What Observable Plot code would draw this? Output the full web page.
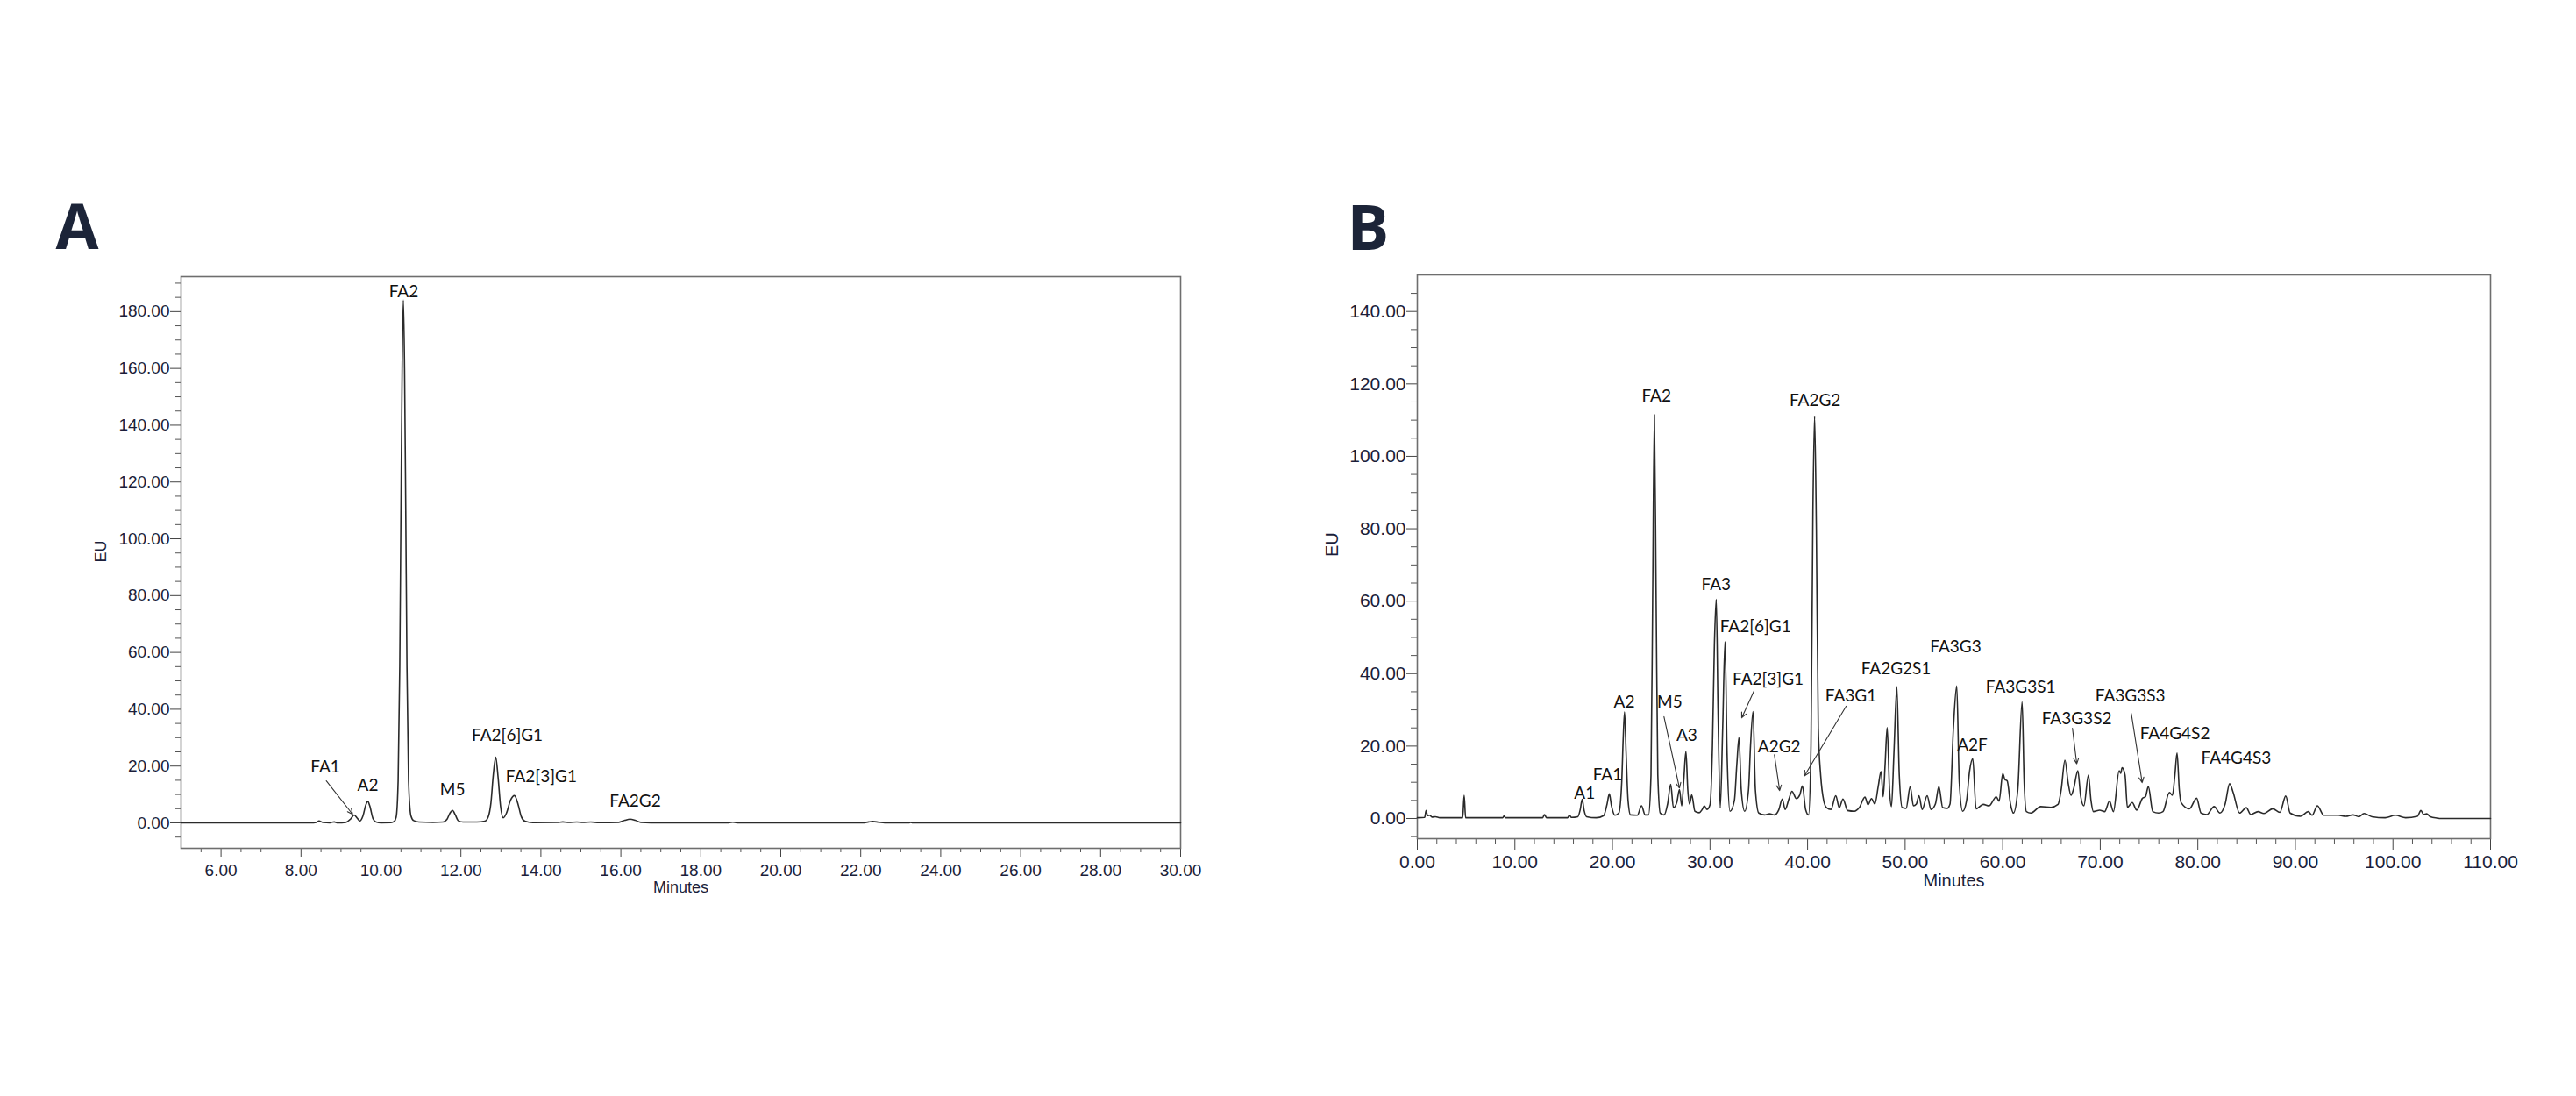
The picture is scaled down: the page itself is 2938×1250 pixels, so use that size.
<!DOCTYPE html>
<html>
<head>
<meta charset="utf-8">
<script src="https://cdn.jsdelivr.net/npm/d3@7"></script>
<script src="https://cdn.jsdelivr.net/npm/@observablehq/plot@0.6"></script>
<style>
  html, body { margin: 0; padding: 0; background: #fff; }
  #wrap { position: relative; width: 2938px; height: 1250px; overflow: hidden; background: #fff; }
  .panel { position: absolute; top: 0; }
</style>
</head>
<body>
<div id="wrap">
  <div id="pa" class="panel" style="left:0px"></div>
  <div id="pb" class="panel" style="left:1450px"></div>
</div>
<script>
// ---------------- Panel A data ----------------
const aTime = [5.0, 8.25, 8.38, 8.45, 8.55, 8.72, 8.83, 8.92, 9.12, 9.25, 9.33, 9.41, 9.47, 9.55, 9.62, 9.67, 9.72, 9.8, 9.88, 10.0,
  10.25, 10.33, 10.38, 10.43, 10.47, 10.50, 10.53, 10.56, 10.59, 10.62, 10.65, 10.69, 10.75, 10.82, 10.95, 11.3,
  11.55, 11.65, 11.72, 11.79, 11.86, 11.93, 12.05, 12.4, 12.6, 12.68, 12.75, 12.81, 12.87, 12.93, 12.99, 13.06,
  13.14, 13.24, 13.34, 13.43, 13.51, 13.6, 13.8, 14.4, 14.55, 14.7, 14.9, 15.05, 15.25, 15.45, 15.95, 16.1, 16.23,
  16.36, 16.5, 17.0, 18.7, 18.8, 18.9, 22.05, 22.2, 22.3, 22.45, 22.6, 23.2, 23.25, 23.3, 30.0];
const aEU = [0, 0, 0.2, 0.7, 0.15, 0.05, 0.35, 0, 0.2, 1.5, 2.8, 1.6, 0.7, 2.5, 6.3, 7.6, 6.0, 1.5, 0.3, 0.05,
  0.1, 0.5, 2, 15, 55, 110, 160, 184, 160, 110, 55, 15, 2.5, 0.8, 0.3, 0.2,
  0.3, 1.2, 3.3, 4.4, 2.8, 0.8, 0.3, 0.3, 0.6, 2, 7, 17, 23.1, 16, 6, 1.8,
  3.5, 8, 9.6, 6.5, 2.2, 0.6, 0.1, 0.15, 0.35, 0.15, 0.3, 0.15, 0.3, 0.1, 0.2, 0.9, 1.3,
  0.9, 0.2, 0, 0, 0.25, 0, 0, 0.35, 0.5, 0.25, 0, 0, 0.2, 0, 0];

const aPeakNames = ["FA1", "A2", "FA2", "M5", "FA2[6]G1", "FA2[3]G1", "FA2G2"];
const aPeakLabelTime = [8.61, 9.67, 10.57, 11.79, 13.16, 14.01, 16.36];
const aPeakLabelEU = [19.5, 13.3, 186.8, 11.7, 30.6, 16.1, 7.7];

const aArrowX1 = [8.634], aArrowY1 = [14.8], aArrowX2 = [9.292], aArrowY2 = [3.0];

const aXTicks = [6, 8, 10, 12, 14, 16, 18, 20, 22, 24, 26, 28, 30];
const aYTicks = [0, 20, 40, 60, 80, 100, 120, 140, 160, 180];

// ---------------- Panel B data ----------------
const bTime = [0.0, 0.75, 0.9, 1.05, 1.26, 1.5, 1.86, 2.3, 4.65, 4.8, 4.95, 8.75, 8.9, 9.05, 12.85, 13.03, 13.25,
  15.4, 15.58, 15.8, 16.45, 16.7, 16.9, 17.1, 17.35, 18.33, 19.1, 19.45, 19.68, 19.9, 20.25, 20.65, 20.95, 21.1,
  21.24, 21.4, 21.6, 21.85, 22.55, 22.98, 23.35, 23.7, 23.95, 24.12, 24.3, 24.48, 24.65, 24.9, 25.3, 25.65, 25.97,
  26.25, 26.6, 26.87, 27.1, 27.32, 27.53, 27.72, 27.9, 28.13, 28.45, 28.9, 29.2, 29.42, 29.7, 30.0, 30.25, 30.45,
  30.64, 30.82, 31.05, 31.3, 31.54, 31.75, 32.05, 32.5, 32.75, 32.97, 33.2, 33.55, 33.95, 34.15, 34.41, 34.65,
  35.0, 35.6, 36.1, 36.6, 37.05, 37.41, 37.7, 38.1, 38.4, 38.85, 39.2, 39.47, 39.8, 40.1, 40.35, 40.55, 40.72,
  40.9, 41.1, 41.35, 41.65, 41.95, 42.4, 42.89, 43.25, 43.63, 44.1, 44.8, 45.3, 45.88, 46.2, 46.55, 46.9, 47.25,
  47.53, 47.75, 47.95, 48.16, 48.4, 48.6, 48.85, 49.15, 49.4, 49.7, 50.1, 50.52, 50.85, 51.15, 51.42, 51.75,
  52.26, 52.65, 53.1, 53.46, 53.85, 54.3, 54.6, 54.95, 55.29, 55.55, 55.9, 56.3, 56.6, 56.93, 57.27, 58.01,
  58.6, 59.34, 59.63, 60.01, 60.22, 60.46, 60.8, 61.1, 61.55, 61.99, 62.2, 62.43, 62.87, 63.9, 64.94, 65.67,
  66.0, 66.38, 66.7, 67.0, 67.29, 67.7, 68.0, 68.32, 68.79, 69.05, 69.3, 69.94, 70.45, 70.95, 71.35, 71.94,
  72.1, 72.24, 72.54, 72.78, 73.28, 73.74, 74.33, 74.63, 74.93, 75.38, 75.98, 76.43, 77.09, 77.39, 77.65,
  77.87, 78.1, 78.29, 79.13, 79.88, 80.33, 80.93, 81.67, 82.27, 82.8, 83.26, 83.62, 84.28, 84.97, 85.42,
  86.17, 86.77, 87.67, 88.41, 89.01, 89.46, 90.51, 91.32, 91.71, 92.25, 92.91, 94.41, 95.16, 95.9, 96.5,
  97.04, 97.85, 99.2, 100.25, 101.3, 102.5, 102.86, 103.15, 103.45, 103.84, 104.59, 104.8, 110.0];
const bEU = [0.2, 0.3, 2.2, 0.8, 0.9, 0.4, 0.5, 0.2, 0.2, 6.4, 0.2, 0.2, 0.7, 0.2, 0.2, 1.1, 0.2,
  0.2, 0.9, 0.3, 0.5, 2.5, 5.3, 2.2, 0.5, 0.2, 0.8, 4, 6.8, 3.5, 0.9, 1.5, 10, 22,
  29.4, 18, 5, 1, 0.9, 3.5, 1.0, 1.0, 12, 60, 111.5, 60, 12, 1.5, 1.0, 4, 9.4,
  3.0, 4.5, 8.0, 3.5, 11, 18.5, 8, 4, 6.5, 2, 1.6, 2.5, 3.5, 2.5, 3.8, 20, 48,
  60.5, 30, 3, 25, 48.8, 18, 2, 5, 15, 22.4, 8, 2, 8, 20, 29.5, 8,
  1.5, 1.0, 1.3, 1.0, 2.4, 5.4, 2.5, 5.5, 7.5, 5.5, 6.5, 9.0, 2.5, 1.0, 20, 85, 111,
  80, 25, 11.7, 5, 3, 2.5, 6.3, 3.0, 5.4, 2.2, 2.0, 3, 5.9, 3.8, 5.5, 4, 9,
  13, 6, 15, 25.1, 8, 3.3, 18, 36.4, 12, 3, 2.8, 8.8, 3.5, 4, 6.3, 2.5,
  6.3, 2.5, 4, 8.8, 3, 2.8, 4, 25, 36.6, 10, 2.0, 5, 13, 16.5, 2.7, 3.9,
  3.5, 6.0, 4.8, 12.4, 10.8, 10.4, 4, 1.5, 8, 32.2, 10, 1.9, 1.5, 3.3, 3.1, 3.9,
  8, 16.1, 10, 6.4, 8.4, 13.2, 6, 3.5, 12.0, 5, 1.9, 2.3, 1.9, 4.8, 1.9, 13.2,
  12.5, 14.0, 12, 3.1, 4.4, 2.3, 5.6, 6, 8.8, 1.9, 1.5, 1.9, 7.2, 6.4, 12,
  18.1, 8, 4.4, 2.7, 5.6, 1.5, 1.1, 3.3, 1.5, 4, 9.6, 7.2, 1.5, 3.0, 1.1,
  1.9, 1.4, 2.7, 1.7, 6.2, 1.5, 0.6, 1.9, 0.9, 3.5, 0.9, 0.9, 0.6, 1.0, 0.5,
  1.4, 0.5, 0.2, 0.9, 0.2, 0.6, 2.2, 1.1, 1.3, 0.5, 0.1, 0, 0];

const bPeakNames = ["A1", "FA1", "A2", "FA2", "M5", "A3", "FA3", "FA2[6]G1", "FA2[3]G1", "A2G2", "FA3G1",
  "FA2G2", "FA2G2S1", "FA3G3", "A2F", "FA3G3S1", "FA3G3S2", "FA3G3S3", "FA4G4S2", "FA4G4S3"];
const bPeakLabelTime = [17.14, 19.5, 21.21, 24.51, 25.87, 27.62, 30.63, 34.66, 35.95, 37.09, 44.44,
  40.77, 49.07, 55.18, 56.89, 61.84, 67.59, 73.08, 77.65, 83.93];
const bPeakLabelEU = [6.9, 11.9, 32.0, 116.5, 32.0, 22.8, 64.5, 53.0, 38.5, 19.7, 33.9,
  115.5, 41.2, 47.3, 20.3, 36.1, 27.4, 33.7, 23.5, 16.7];

const bArrowX1 = [25.28, 34.51, 36.6, 43.95, 67.15, 73.18];
const bArrowY1 = [28.1, 35.2, 17.6, 31.0, 24.9, 29.0];
const bArrowX2 = [26.87, 33.25, 37.14, 39.66, 67.59, 74.3];
const bArrowY2 = [8.4, 27.8, 7.7, 11.7, 15.1, 9.9];

const bXTicks = [0, 10, 20, 30, 40, 50, 60, 70, 80, 90, 100, 110];
const bYTicks = [0, 20, 40, 60, 80, 100, 120, 140];

// ---------------- helpers ----------------
const fmt2 = d => d.toFixed(2);
const tickFont = "'Liberation Sans', Arial, sans-serif";
const labelFont = "Lato, 'Open Sans', sans-serif";
const tickText = "#1b1e3a";

function rows(x, y) { return x.map((t, i) => ({t, v: y[i]})); }
function labelRows(n, x, y) { return n.map((name, i) => ({name, t: x[i], v: y[i]})); }
function arrowRows(x1, y1, x2, y2) { return x1.map((_, i) => ({x1: x1[i], y1: y1[i], x2: x2[i], y2: y2[i]})); }
function minorTicks(lo, hi, step, majors) {
  return d3.range(lo, hi + step / 2, step).filter(v => !majors.some(m => Math.abs(m - v) < 1e-6));
}

function panel(cfg) {
  return Plot.plot({
    width: cfg.width, height: 1250,
    marginLeft: cfg.ml, marginRight: cfg.mr, marginTop: cfg.mt, marginBottom: cfg.mb,
    style: {background: "transparent", fontFamily: tickFont, overflow: "visible"},
    x: {domain: cfg.xDomain},
    y: {domain: cfg.yDomain},
    marks: [
      Plot.axisX({ticks: cfg.xMinor, tickSize: cfg.xMinorSize, tickFormat: () => "", stroke: "#555", label: null}),
      Plot.axisX({ticks: cfg.xTicks, tickSize: cfg.xMajorSize, tickPadding: cfg.xPad, tickFormat: fmt2,
        fontSize: cfg.tickFs, fill: tickText, stroke: "#444", label: null}),
      Plot.axisY({ticks: cfg.yMinor, tickSize: cfg.yMinorSize, tickFormat: () => "", stroke: "#555", label: null}),
      Plot.axisY({ticks: cfg.yTicks, tickSize: cfg.yMajorSize, tickPadding: 1, tickFormat: fmt2,
        fontSize: cfg.tickFs, fill: tickText, stroke: "#444", label: null}),
      Plot.frame({stroke: "#6e6e6e", strokeWidth: 1.6}),
      Plot.line(cfg.trace, {x: "t", y: "v", curve: "monotone-x", stroke: "#2a2a2a", strokeWidth: 1.6}),
      Plot.arrow(cfg.arrows, {x1: "x1", y1: "y1", x2: "x2", y2: "y2", stroke: "#333", strokeWidth: 1.1,
        headLength: 9, headAngle: 50}),
      Plot.text(cfg.labels, {x: "t", y: "v", text: "name", fontSize: 19, fontFamily: labelFont,
        fill: "#111", textAnchor: "middle", lineAnchor: "middle"}),
      Plot.text(["EU"], {text: d => d, frameAnchor: "left", dx: cfg.euDx, rotate: -90, fontSize: cfg.titleFs,
        fill: tickText, fontFamily: tickFont}),
      Plot.text(["Minutes"], {text: d => d, frameAnchor: "bottom", dy: cfg.minDy, fontSize: cfg.titleFs,
        fill: tickText, fontFamily: tickFont}),
      Plot.text([cfg.letter], {text: d => d, frameAnchor: "top-left", dx: cfg.letterDx, dy: cfg.letterDy,
        textAnchor: "start", lineAnchor: "bottom", fontSize: 71, fontWeight: "bold",
        fontFamily: "'Open Sans', Lato, sans-serif", fill: "#1c2438"})
    ]
  });
}

document.getElementById("pa").appendChild(panel({
  width: 1450, ml: 206, mr: 104, mt: 315, mb: 283,
  xDomain: [5, 30], yDomain: [-8.95, 192.3],
  xTicks: aXTicks, xMinor: minorTicks(5, 30, 0.5, aXTicks), xMajorSize: 10, xMinorSize: 5, xPad: 8,
  yTicks: aYTicks, yMinor: minorTicks(-5, 190, 5, aYTicks), yMajorSize: 12, yMinorSize: 6,
  tickFs: 19, titleFs: 18,
  trace: rows(aTime, aEU),
  labels: labelRows(aPeakNames, aPeakLabelTime, aPeakLabelEU),
  arrows: arrowRows(aArrowX1, aArrowY1, aArrowX2, aArrowY2),
  euDx: -91, minDy: 50, letter: "A", letterDx: -143, letterDy: -32
}));

document.getElementById("pb").appendChild(panel({
  width: 1488, ml: 166, mr: 98, mt: 313, mb: 294,
  xDomain: [0, 110], yDomain: [-5.57, 150.1],
  xTicks: bXTicks, xMinor: minorTicks(0, 110, 2, bXTicks), xMajorSize: 13, xMinorSize: 7, xPad: 6,
  yTicks: bYTicks, yMinor: minorTicks(-5, 145, 5, bYTicks), yMajorSize: 12, yMinorSize: 7,
  tickFs: 21, titleFs: 20,
  trace: rows(bTime, bEU),
  labels: labelRows(bPeakNames, bPeakLabelTime, bPeakLabelEU),
  arrows: arrowRows(bArrowX1, bArrowY1, bArrowX2, bArrowY2),
  euDx: -97, minDy: 54, letter: "B", letterDx: -80, letterDy: -29
}));
</script>
</body>
</html>
